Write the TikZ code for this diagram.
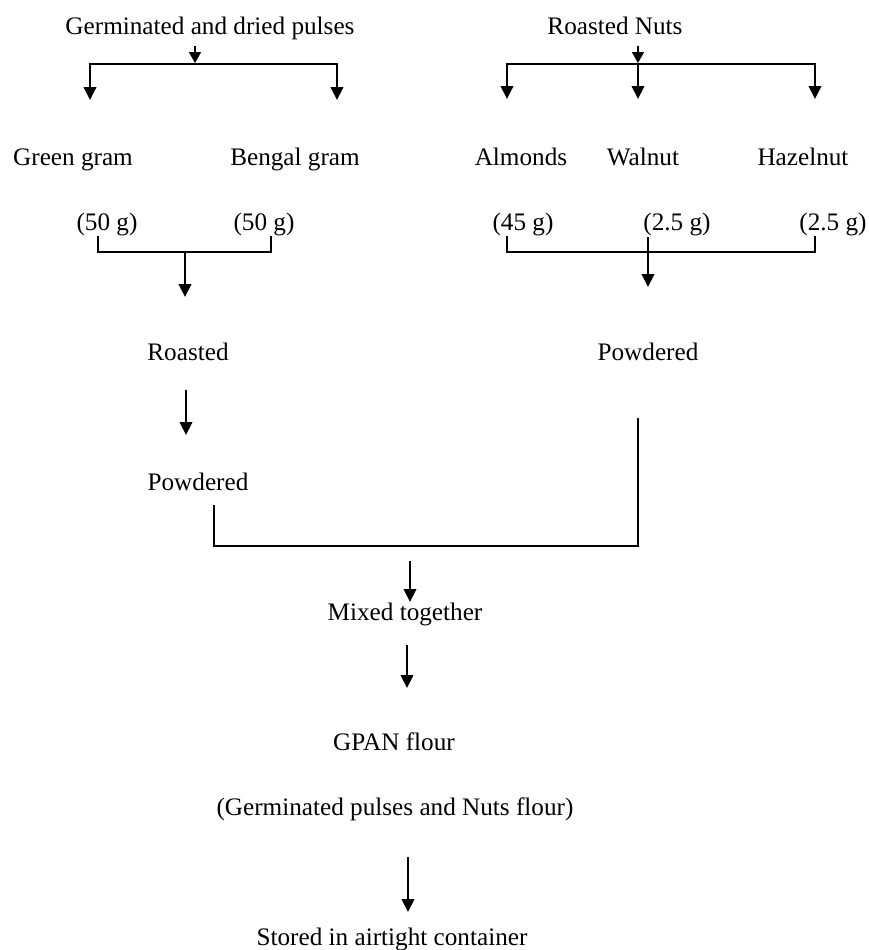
\documentclass[tikz,border=0pt]{standalone}
\usepackage{fontspec}
\setmainfont{Liberation Serif}
\usetikzlibrary{arrows.meta}
\begin{document}
\begin{tikzpicture}[x=0.5pt,y=-0.5pt,
  lbl/.style={font=\fontsize{12.6}{15}\selectfont, inner sep=0pt, anchor=base},
  ln/.style={line width=0.8pt, line cap=rect},
  arr/.style={line width=0.8pt, -{Triangle[width=6.3pt,length=6.5pt]}},
  arrs/.style={line width=0.8pt, -{Triangle[width=6pt,length=5.5pt]}}]
\useasboundingbox (0,0) rectangle (869,950);
% text nodes
\node[lbl] (gp) at (210,34) {Germinated and dried pulses};
\node[lbl] (rn) at (615,34) {Roasted Nuts};
\node[lbl] (gg) at (73,165) {Green gram};
\node[lbl] (bg) at (295,165) {Bengal gram};
\node[lbl] (al) at (521,165) {Almonds};
\node[lbl] (wa) at (643,165) {Walnut};
\node[lbl] (hz) at (803,165) {Hazelnut};
\node[lbl] (w1) at (107,230) {(50 g)};
\node[lbl] (w2) at (264,230) {(50 g)};
\node[lbl] (w3) at (523,230) {(45 g)};
\node[lbl] (w4) at (677,230) {(2.5 g)};
\node[lbl] (w5) at (833,230) {(2.5 g)};
\node[lbl] (ro) at (188,360) {Roasted};
\node[lbl] (pr) at (648,360) {Powdered};
\node[lbl] (pl) at (198,490) {Powdered};
\node[lbl] (mx) at (405,620) {Mixed together};
\node[lbl] (gf) at (394,750) {GPAN flour};
\node[lbl] (gn) at (395,815) {(Germinated pulses and Nuts flour)};
\node[lbl] (st) at (392,945) {Stored in airtight container};
% junction coordinates
\coordinate (a1s) at (195,46);  \coordinate (a1e) at (195,63);
\coordinate (h1l) at (90,64);   \coordinate (h1r) at (337,64);
\coordinate (gge) at (90,100);  \coordinate (bge) at (337,100);
\coordinate (a2s) at (638,46);  \coordinate (a2e) at (638,63);
\coordinate (h2l) at (507,64);  \coordinate (h2m) at (638,64); \coordinate (h2r) at (815,64);
\coordinate (ale) at (507,99);  \coordinate (wae) at (638,99); \coordinate (hze) at (815,99);
\coordinate (b1a) at (98,237);  \coordinate (b1b) at (98,252);
\coordinate (b1c) at (271,252); \coordinate (b1d) at (271,237);
\coordinate (b1m) at (185,252); \coordinate (roe) at (185,297);
\coordinate (b2a) at (507,237); \coordinate (b2b) at (507,252);
\coordinate (b2c) at (815,252); \coordinate (b2d) at (815,237);
\coordinate (b2m) at (648,237); \coordinate (pre) at (648,287);
\coordinate (r1s) at (186,390); \coordinate (r1e) at (186,435);
\coordinate (b3a) at (214,506); \coordinate (b3b) at (214,546);
\coordinate (b3c) at (638,546); \coordinate (b3d) at (638,419);
\coordinate (m1s) at (410,561); \coordinate (m1e) at (410,602);
\coordinate (m2s) at (407,645); \coordinate (m2e) at (407,688);
\coordinate (s1s) at (408,857); \coordinate (s1e) at (408,912);
% connectors
\draw[arrs] (a1s) -- (a1e);
\draw[ln] (h1l) -- (h1r);
\draw[arr] (h1l) -- (gge);
\draw[arr] (h1r) -- (bge);
\draw[arrs] (a2s) -- (a2e);
\draw[ln] (h2l) -- (h2r);
\draw[arr] (h2l) -- (ale);
\draw[arr] (h2m) -- (wae);
\draw[arr] (h2r) -- (hze);
\draw[ln] (b1a) -- (b1b) -- (b1c) -- (b1d);
\draw[arr] (b1m) -- (roe);
\draw[ln] (b2a) -- (b2b) -- (b2c) -- (b2d);
\draw[arr] (b2m) -- (pre);
\draw[arr] (r1s) -- (r1e);
\draw[ln] (b3a) -- (b3b) -- (b3c) -- (b3d);
\draw[arr] (m1s) -- (m1e);
\draw[arr] (m2s) -- (m2e);
\draw[arr] (s1s) -- (s1e);
\end{tikzpicture}
\end{document}
